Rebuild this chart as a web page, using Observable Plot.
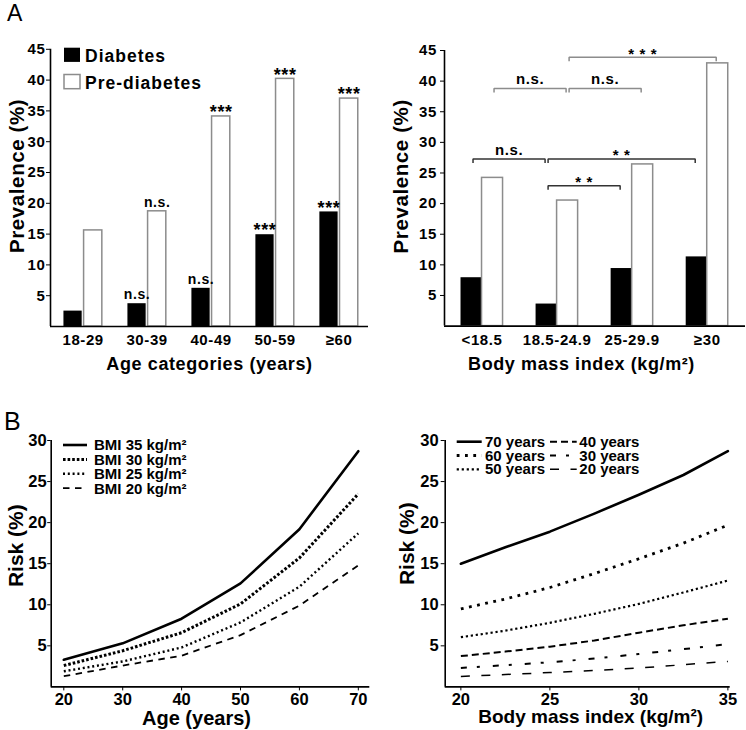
<!DOCTYPE html>
<html><head><meta charset="utf-8">
<script src="https://cdn.jsdelivr.net/npm/d3@7"></script>
<script src="https://cdn.jsdelivr.net/npm/@observablehq/plot@0.6"></script>
<style>
body{margin:0;background:#fff;}
#wrap{position:relative;width:746px;height:730px;overflow:hidden;}
.pw{position:absolute;}
.pw svg{overflow:visible;}
.top text{letter-spacing:0.6px;}
</style></head><body><div id="wrap"></div>
<script>
// ---------- Panel A data ----------
const ageCategories = ["18-29", "30-39", "40-49", "50-59", "≥60"];
const ageDiabetes = [2.5, 3.7, 6.2, 14.9, 18.6];
const agePrediabetes = [15.6, 18.7, 34.1, 40.2, 37.0];
const ageSigDiabetes = ["", "n.s.", "n.s.", "***", "***"];
const ageSigPrediabetes = ["", "n.s.", "***", "***", "***"];

const bmiCategories = ["<18.5", "18.5-24.9", "25-29.9", "≥30"];
const bmiDiabetes = [7.9, 3.6, 9.4, 11.3];
const bmiPrediabetes = [24.2, 20.5, 26.4, 42.9];

const bracketFrom = ["<18.5", "18.5-24.9", "18.5-24.9", "<18.5", "18.5-24.9", "18.5-24.9"];
const bracketTo = ["18.5-24.9", "≥30", "25-29.9", "18.5-24.9", "25-29.9", "≥30"];
const bracketSeries = ["Diabetes", "Diabetes", "Diabetes", "Pre-diabetes", "Pre-diabetes", "Pre-diabetes"];
const bracketLevel = [27.3, 27.3, 22.9, 38.8, 38.8, 43.9];
const bracketLabel = ["n.s.", "* *", "* *", "n.s.", "n.s.", "* * *"];

const barSeries = ["Diabetes", "Pre-diabetes"];
const prevalenceTicks = [5, 10, 15, 20, 25, 30, 35, 40, 45];

// ---------- Panel B data ----------
const riskTicks = [5, 10, 15, 20, 25, 30];
const riskAges = [20, 30, 40, 50, 60, 70];
const riskBmiGroups = ["BMI 35 kg/m²", "BMI 30 kg/m²", "BMI 25 kg/m²", "BMI 20 kg/m²"];
const riskBmi35 = [3.3, 5.3, 8.3, 12.6, 19.2, 28.7];
const riskBmi30 = [2.6, 4.4, 6.6, 10.1, 15.7, 23.5];
const riskBmi25 = [1.9, 3.1, 4.8, 7.85, 12.2, 18.7];
const riskBmi20 = [1.3, 2.6, 3.8, 6.3, 9.9, 14.8];

const riskBmis = [20, 22.5, 25, 27.5, 30, 32.5, 35];
const riskAgeGroups = ["70 years", "60 years", "50 years", "40 years", "30 years", "20 years"];
const riskAge70 = [15.0, 17.0, 18.9, 21.1, 23.4, 25.8, 28.7];
const riskAge60 = [9.5, 10.7, 12.1, 13.8, 15.6, 17.5, 19.7];
const riskAge50 = [6.05, 6.85, 7.8, 8.9, 10.1, 11.5, 12.95];
const riskAge40 = [3.75, 4.3, 4.9, 5.65, 6.6, 7.5, 8.3];
const riskAge30 = [2.3, 2.65, 3.0, 3.45, 4.0, 4.6, 5.2];
const riskAge20 = [1.27, 1.5, 1.75, 2.0, 2.3, 2.7, 3.1];

// ---------- build tables ----------
const ff = '"Liberation Sans", Arial, Helvetica, sans-serif';
const wrap = document.getElementById("wrap");
function place(svg, left, top, cls) {
  const d = document.createElement("div");
  d.className = "pw " + (cls || "");
  d.style.left = left + "px"; d.style.top = top + "px";
  d.appendChild(svg); wrap.appendChild(d);
}
const baseStyle = (fs) => ({fontFamily: ff, fontSize: fs + "px", fontWeight: "bold", color: "#000", background: "transparent", overflow: "visible"});
const xTitle = (label, dx, dy, fs) => Plot.text([label], {frameAnchor: "bottom", text: d => d, textAnchor: "middle", lineAnchor: "middle", dx, dy, fontSize: fs, fontWeight: "bold"});
const yTitle = (label, dx, dy, fs) => Plot.text([label], {frameAnchor: "left", text: d => d, textAnchor: "middle", lineAnchor: "middle", rotate: -90, dx, dy, fontSize: fs, fontWeight: "bold"});

const ageRows = ageCategories.flatMap((c, i) => [
  {cat: c, i, series: "Diabetes", value: ageDiabetes[i], sig: ageSigDiabetes[i]},
  {cat: c, i, series: "Pre-diabetes", value: agePrediabetes[i], sig: ageSigPrediabetes[i]}
]);
const bmiRows = bmiCategories.flatMap((c, i) => [
  {cat: c, i, series: "Diabetes", value: bmiDiabetes[i]},
  {cat: c, i, series: "Pre-diabetes", value: bmiPrediabetes[i]}
]);

// ---------- A left ----------
const tlHalf = 0.3, tlGap = 0.015;
const tlCenter = d => d.series === "Diabetes" ? d.i - (tlHalf + tlGap) / 2 : d.i + (tlHalf + tlGap) / 2;
const tlX0 = -0.51;
const tl = Plot.plot({
  width: 373, height: 380,
  marginLeft: 50, marginRight: 5, marginTop: 48.8, marginBottom: 54,
  style: baseStyle(15),
  x: {domain: [tlX0, 4.46], ticks: d3.range(ageCategories.length), tickFormat: i => ageCategories[i], tickSize: 0, tickPadding: 8, label: null},
  y: {domain: [0, 45], ticks: prevalenceTicks, tickSize: 4, tickPadding: 1, label: null},
  marks: [
    Plot.rect(ageRows.filter(d => d.series === "Diabetes"), {x1: d => d.i - tlHalf, x2: d => d.i - tlGap, y1: 0, y2: "value", fill: "#000"}),
    Plot.rect(ageRows.filter(d => d.series === "Pre-diabetes"), {x1: d => d.i + tlGap, x2: d => d.i + tlHalf, y1: 0, y2: "value", fill: "#fff", stroke: "#8c8c8c", strokeWidth: 1.5}),
    Plot.ruleX([tlX0], {y1: 0, y2: 45, strokeWidth: 1.6}),
    Plot.ruleY([0], {strokeWidth: 1.6}),
    Plot.text(ageRows.filter(d => d.sig === "n.s."), {x: tlCenter, y: "value", text: "sig", dy: -9, fontSize: 14, fontWeight: "bold"}),
    Plot.text(ageRows.filter(d => d.sig === "***"), {x: tlCenter, y: "value", text: "sig", dy: -4, fontSize: 18, fontWeight: "bold"}),
    xTitle("Age categories (years)", 0, 38.2, 18),
    yTitle("Prevalence (%)", -33, -12, 20.5)
  ]
});
place(tl, 0, 0, "top");

// ---------- A right ----------
const trHalf = 0.28;
const trCenter = (cat, series) => bmiCategories.indexOf(cat) + (series === "Diabetes" ? -trHalf / 2 : trHalf / 2);
const bracketPts = bracketFrom.flatMap((f, k) => {
  const x1 = trCenter(f, bracketSeries[k]) + 0.02;
  const x2 = trCenter(bracketTo[k], bracketSeries[k]) - 0.02;
  const y = bracketLevel[k];
  return [
    {k, series: bracketSeries[k], x: x1, y: y - 0.65},
    {k, series: bracketSeries[k], x: x1, y},
    {k, series: bracketSeries[k], x: x2, y},
    {k, series: bracketSeries[k], x: x2, y: y - 0.65}
  ];
});
const bracketMid = bracketFrom.map((f, k) => ({
  x: (trCenter(f, bracketSeries[k]) + trCenter(bracketTo[k], bracketSeries[k])) / 2,
  y: bracketLevel[k], label: bracketLabel[k]
}));
const trX0 = -0.5;
const tr = Plot.plot({
  width: 373, height: 380,
  marginLeft: 71, marginRight: 1, marginTop: 50, marginBottom: 54.4,
  style: baseStyle(15),
  x: {domain: [trX0, 3.51], ticks: d3.range(bmiCategories.length), tickFormat: i => bmiCategories[i], tickSize: 0, tickPadding: 8, label: null},
  y: {domain: [0, 45], ticks: prevalenceTicks, tickSize: 4, tickPadding: 3.5, label: null},
  marks: [
    Plot.rect(bmiRows.filter(d => d.series === "Diabetes"), {x1: d => d.i - trHalf, x2: d => d.i, y1: 0, y2: "value", fill: "#000"}),
    Plot.rect(bmiRows.filter(d => d.series === "Pre-diabetes"), {x1: d => d.i, x2: d => d.i + trHalf, y1: 0, y2: "value", fill: "#fff", stroke: "#8c8c8c", strokeWidth: 1.5}),
    Plot.line(bracketPts.filter(d => d.series === "Diabetes"), {x: "x", y: "y", z: "k", stroke: "#333", strokeWidth: 1.5, strokeLinecap: "butt", strokeLinejoin: "miter"}),
    Plot.line(bracketPts.filter(d => d.series === "Pre-diabetes"), {x: "x", y: "y", z: "k", stroke: "#8c8c8c", strokeWidth: 1.5, strokeLinecap: "butt", strokeLinejoin: "miter"}),
    Plot.text(bracketMid.filter(d => d.label === "n.s."), {x: "x", y: "y", text: "label", dy: -9, fontSize: 15, fontWeight: "bold"}),
    Plot.text(bracketMid.filter(d => d.label !== "n.s."), {x: "x", y: "y", text: "label", dy: -3.5, fontSize: 15, fontWeight: "bold"}),
    Plot.ruleX([trX0], {y1: 0, y2: 45, strokeWidth: 1.6}),
    Plot.ruleY([0], {strokeWidth: 1.6}),
    xTitle("Body mass index (kg/m²)", -13.5, 38.6, 18),
    yTitle("Prevalence (%)", -43, -12, 20.5)
  ]
});
place(tr, 373, 0, "top");

// ---------- B left ----------
const bmiSeriesValues = [riskBmi35, riskBmi30, riskBmi25, riskBmi20];
const riskAgeRows = riskBmiGroups.flatMap((g, s) => riskAges.map((a, j) => ({group: g, age: a, risk: bmiSeriesValues[s][j]})));
const blStyles = [
  {strokeWidth: 2.6},
  {strokeWidth: 3, strokeDasharray: "2.6,2", strokeLinecap: "butt"},
  {strokeWidth: 2.4, strokeDasharray: "2,2.8", strokeLinecap: "butt"},
  {strokeWidth: 1.8, strokeDasharray: "6.5,5.5", strokeLinecap: "butt"}
];
const blX0 = 17.86;
const bl = Plot.plot({
  width: 373, height: 350,
  marginLeft: 50.7, marginRight: 3.7, marginTop: 60, marginBottom: 43.6,
  style: baseStyle(16.5),
  x: {domain: [blX0, 71.95], ticks: riskAges, tickSize: 4, tickPadding: 2.5, label: null},
  y: {domain: [0, 30], ticks: riskTicks, tickSize: 3.5, tickPadding: 1, label: null},
  marks: [
    ...riskBmiGroups.map((g, s) => Plot.line(riskAgeRows.filter(d => d.group === g), {x: "age", y: "risk", stroke: "#000", ...blStyles[s]})),
    Plot.ruleX([blX0], {y1: 0, y2: 30, strokeWidth: 1.6}),
    Plot.ruleY([0], {strokeWidth: 1.6}),
    xTitle("Age (years)", -14, 31.2, 20),
    yTitle("Risk (%)", -35, -18, 21)
  ]
});
place(bl, 0, 380);

// ---------- B right ----------
const ageSeriesValues = [riskAge70, riskAge60, riskAge50, riskAge40, riskAge30, riskAge20];
const riskBmiRows = riskAgeGroups.flatMap((g, s) => riskBmis.map((b, j) => ({group: g, bmi: b, risk: ageSeriesValues[s][j]})));
const brStyles = [
  {strokeWidth: 2.6},
  {strokeWidth: 2.8, strokeDasharray: "2.8,5.5", strokeLinecap: "butt"},
  {strokeWidth: 2.2, strokeDasharray: "2.2,2.8", strokeLinecap: "butt"},
  {strokeWidth: 2, strokeDasharray: "7,4", strokeLinecap: "butt"},
  {strokeWidth: 2, strokeDasharray: "6,10,3,13", strokeLinecap: "butt"},
  {strokeWidth: 1.5, strokeDasharray: "9,11.5", strokeLinecap: "butt"}
];
const brX0 = 19.12;
const br = Plot.plot({
  width: 373, height: 350,
  marginLeft: 71.7, marginRight: 16.3, marginTop: 60, marginBottom: 43.6,
  style: baseStyle(16.5),
  x: {domain: [brX0, 35.13], ticks: [20, 25, 30, 35], tickSize: 4, tickPadding: 2.5, label: null},
  y: {domain: [0, 30], ticks: riskTicks, tickSize: 4, tickPadding: 2.5, label: null},
  marks: [
    ...riskAgeGroups.map((g, s) => Plot.line(riskBmiRows.filter(d => d.group === g), {x: "bmi", y: "risk", stroke: "#000", ...brStyles[s]})),
    Plot.ruleX([brX0], {y1: 0, y2: 30, strokeWidth: 1.6}),
    Plot.ruleY([0], {strokeWidth: 1.6}),
    xTitle("Body mass index (kg/m²)", 3, 30.5, 19),
    yTitle("Risk (%)", -37.7, -20, 21)
  ]
});
place(br, 373, 380);

// ---------- overlay: panel letters and legends ----------
const ov = d3.select(wrap).append("svg")
  .attr("width", 746).attr("height", 730)
  .style("position", "absolute").style("left", "0px").style("top", "0px")
  .style("pointer-events", "none").style("font-family", ff);
ov.append("text").attr("x", 7).attr("y", 21).attr("font-size", 23).text("A");
ov.append("text").attr("x", 4).attr("y", 430).attr("font-size", 25).text("B");

// A legend
barSeries.forEach((s, i) => {
  ov.append("rect").attr("x", 64).attr("y", 47.7 + i * 26.8).attr("width", 16).attr("height", 14.2)
    .attr("fill", i === 0 ? "#000" : "#fff").attr("stroke", i === 0 ? "none" : "#8c8c8c").attr("stroke-width", 1.5);
  ov.append("text").attr("x", 85).attr("y", 61.7 + i * 27.6).attr("font-size", 17.5).attr("font-weight", "bold")
    .attr("letter-spacing", "1px").text(s);
});

// B left legend
riskBmiGroups.forEach((g, s) => {
  const y = 445 + s * 14.4;
  const st = blStyles[s];
  ov.append("line").attr("x1", 63).attr("x2", 87).attr("y1", y).attr("y2", y)
    .attr("stroke", "#000").attr("stroke-width", st.strokeWidth).attr("stroke-dasharray", st.strokeDasharray || null);
  ov.append("text").attr("x", 94).attr("y", y + 5.4).attr("font-size", 15).attr("font-weight", "bold").text(g);
});

// B right legend
riskAgeGroups.forEach((g, s) => {
  const col = Math.floor(s / 3), row = s % 3;
  const y = 441.7 + row * 13.8;
  const lx = col === 0 ? [456.7, 481.7] : [550, 576.7];
  const tx = col === 0 ? 485 : 579.3;
  const st = brStyles[s];
  ov.append("line").attr("x1", lx[0]).attr("x2", lx[1]).attr("y1", y).attr("y2", y)
    .attr("stroke", "#000").attr("stroke-width", st.strokeWidth).attr("stroke-dasharray", st.strokeDasharray || null);
  ov.append("text").attr("x", tx).attr("y", y + 5).attr("font-size", 15).attr("font-weight", "bold").text(g);
});
</script></body></html>
